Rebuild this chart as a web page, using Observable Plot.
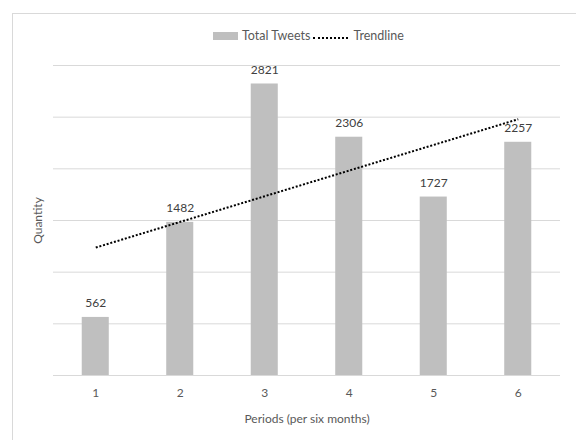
<!DOCTYPE html>
<html>
<head>
<meta charset="utf-8">
<script src="https://cdn.jsdelivr.net/npm/d3@7"></script>
<script src="https://cdn.jsdelivr.net/npm/@observablehq/plot@0.6"></script>
<style>
  html, body { margin: 0; padding: 0; background: #fff; overflow: hidden; }
  body { width: 576px; height: 440px; position: relative; font-family: Lato, "Open Sans", sans-serif; }
  #frame { position: absolute; left: 12px; top: 13px; width: 580px; height: 450px; border: 1px solid #d9d9d9; box-sizing: border-box; }
  #legend { position: absolute; left: 213px; top: 28px; display: flex; align-items: center; font-size: 12.5px; color: #595959; white-space: nowrap; }
  #legend .sw { width: 25px; height: 8px; background: #bfbfbf; margin-right: 4px; }
  #legend .dl { width: 35px; height: 0; border-top: 2px dotted #000; margin: 5px 5px 0 3px; }
  #chart { position: absolute; left: 0; top: 50px; }
</style>
</head>
<body>
<div id="frame"></div>
<div id="legend"><span class="sw"></span><span>Total Tweets</span><span class="dl"></span><span>Trendline</span></div>
<div id="chart"></div>
<script>
const periods = [1, 2, 3, 4, 5, 6];
const tweets = [562, 1482, 2821, 2306, 1727, 2257];
const gridValues = [0, 500, 1000, 1500, 2000, 2500, 3000];

const data = periods.map((p, i) => ({period: p, value: tweets[i]}));
const half = 0.16;

const chart = Plot.plot({
  width: 576,
  height: 390,
  marginTop: 15,
  marginBottom: 65,
  marginLeft: 53,
  marginRight: 16,
  style: {fontFamily: "Lato, 'Open Sans', sans-serif", fontSize: "12px", color: "#595959", background: "transparent"},
  x: {domain: [0.5, 6.5]},
  y: {domain: [0, 3000]},
  marks: [
    Plot.ruleY(gridValues, {stroke: "#d9d9d9", strokeWidth: 1}),
    Plot.rectY(data, {x1: d => d.period - half, x2: d => d.period + half, y: "value", fill: "#bfbfbf"}),
    Plot.text(data, {x: "period", y: "value", text: d => String(d.value), lineAnchor: "bottom", dy: -10, fill: "#404040", fontSize: 12}),
    Plot.linearRegressionY(data, {x: "period", y: "value", ci: 0, stroke: "#000", strokeWidth: 2, strokeDasharray: "2 1.8", strokeLinecap: "butt"}),
    Plot.axisX(periods, {ticks: periods, tickSize: 0, tickPadding: 13, tickFormat: d => String(d), label: "Periods (per six months)", labelAnchor: "center", labelOffset: 47, labelArrow: "none", fill: "#595959", fontSize: 12}),
    Plot.axisY({ticks: [], tickSize: 0, label: "Quantity", labelAnchor: "center", labelOffset: 20, labelArrow: "none", fontSize: 12})
  ]
});
document.getElementById("chart").appendChild(chart);
</script>
</body>
</html>
